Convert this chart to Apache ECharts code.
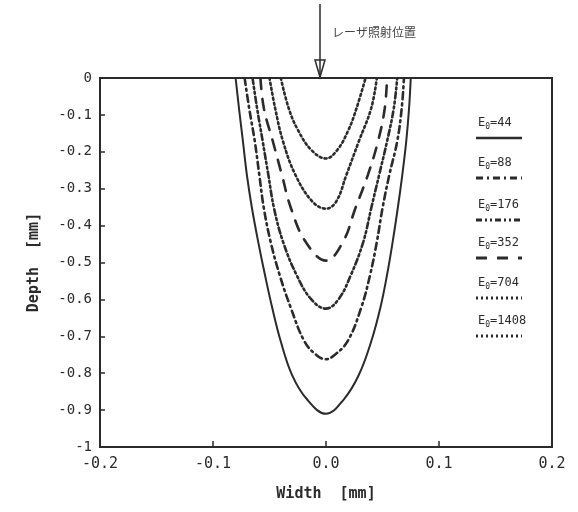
<!DOCTYPE html>
<html>
<head>
<meta charset="utf-8">
<script src="https://cdn.jsdelivr.net/npm/echarts@6/dist/echarts.min.js"></script>
<style>
  html, body { margin: 0; padding: 0; background: #fff; }
  #chart { width: 578px; height: 512px; }
</style>
</head>
<body>
<div id="chart"></div>
<script>
// x [mm], y [mm], left branch to right branch
const e44 = [[-0.080, 0], [-0.077, -0.082], [-0.0735, -0.172], [-0.070, -0.263], [-0.0655, -0.353], [-0.060, -0.444],
    [-0.054, -0.534], [-0.0475, -0.624], [-0.040, -0.714], [-0.030, -0.805], [-0.017, -0.87], [0, -0.91],
    [0.016, -0.87], [0.029, -0.805], [0.040, -0.714], [0.048, -0.624], [0.054, -0.534], [0.059, -0.444],
    [0.0635, -0.353], [0.0675, -0.263], [0.071, -0.172], [0.0735, -0.082], [0.075, 0]];
const e88 = [[-0.072, 0], [-0.068, -0.082], [-0.063, -0.172], [-0.059, -0.263], [-0.055, -0.353], [-0.049, -0.444],
    [-0.041, -0.534], [-0.031, -0.624], [-0.019, -0.714], [-0.008, -0.752], [0, -0.762], [0.007, -0.752],
    [0.019, -0.714], [0.031, -0.624], [0.039, -0.534], [0.045, -0.444], [0.050, -0.353], [0.056, -0.263],
    [0.063, -0.172], [0.067, -0.082], [0.069, 0]];
const e176 = [[-0.065, 0], [-0.061, -0.082], [-0.056, -0.172], [-0.051, -0.263], [-0.046, -0.353], [-0.038, -0.444],
    [-0.026, -0.534], [-0.013, -0.60], [0, -0.625], [0.011, -0.60], [0.022, -0.534], [0.033, -0.444],
    [0.040, -0.353], [0.047, -0.263], [0.054, -0.172], [0.060, -0.082], [0.063, 0]];
const e352 = [[-0.058, 0], [-0.055, -0.082], [-0.047, -0.172], [-0.039, -0.263], [-0.031, -0.353], [-0.018, -0.444],
    [0, -0.495], [0.015, -0.444], [0.026, -0.353], [0.037, -0.263], [0.046, -0.172], [0.052, -0.082], [0.054, 0]];
const e704 = [[-0.050, 0], [-0.045, -0.082], [-0.038, -0.172], [-0.027, -0.263], [-0.012, -0.335], [0, -0.354],
    [0.009, -0.335], [0.018, -0.263], [0.029, -0.172], [0.040, -0.082], [0.045, 0]];
const e1408 = [[-0.040, 0], [-0.033, -0.082], [-0.025, -0.14], [-0.013, -0.195], [0, -0.218], [0.010, -0.195],
    [0.020, -0.14], [0.027, -0.082], [0.035, 0]];

const legend_labels = ['44', '88', '176', '352', '704', '1408'];
const x_ticks = [-0.2, -0.1, 0.0, 0.1, 0.2];
const y_ticks = [0, -0.1, -0.2, -0.3, -0.4, -0.5, -0.6, -0.7, -0.8, -0.9, -1];

const ink = '#2b2b2b';
const mono = '"DejaVu Sans Mono", "Liberation Mono", monospace';
const dashes = ['solid', [7, 4, 2, 4], [6, 3, 2, 3, 2, 3], [11, 10], [2, 3], [2, 3]];
const curves = [e44, e88, e176, e352, e704, e1408];

let series = curves.map((c, i) => ({
    name: 'E0=' + legend_labels[i], type: 'line', data: c, smooth: 0.4, showSymbol: false,
    lineStyle: {color: ink, width: i === 0 ? 2 : 2.6, type: dashes[i], cap: 'round'}
}));

// hand drawn legend: label above a short line sample
let legend_y = [125, 165, 207, 245, 285, 323];
let graphics = [];
legend_labels.forEach((lab, i) => {
    graphics.push({
        type: 'text', left: 478, top: legend_y[i] - 8,
        style: {
            text: '{e|E}{s|0}{e|=' + lab + '}',
            rich: {
                e: {fontFamily: mono, fontSize: 12, fill: ink},
                s: {fontFamily: mono, fontSize: 8, fill: ink, padding: [8, 0, 0, 0]}
            }
        }
    });
    graphics.push({
        type: 'line', shape: {x1: 476, y1: legend_y[i] + 13, x2: 522, y2: legend_y[i] + 13},
        style: {stroke: ink, lineWidth: i === 0 ? 2.5 : 3, lineDash: dashes[i] === 'solid' ? null : dashes[i]}
    });
});
// laser position arrow
graphics.push({type: 'line', shape: {x1: 320, y1: 4, x2: 320, y2: 77}, style: {stroke: ink, lineWidth: 1.5}});
graphics.push({type: 'polygon', shape: {points: [[315, 60], [325, 60], [320, 77]]},
    style: {fill: 'none', stroke: ink, lineWidth: 1.5}});
graphics.push({type: 'text', left: 332, top: 26,
    style: {text: 'レーザ照射位置', font: '12px "Noto Sans CJK JP"', fill: '#444'}});

let option = {
    animation: false,
    backgroundColor: '#fff',
    grid: {left: 100, right: 26, top: 78, bottom: 65, show: true, borderColor: ink, borderWidth: 2},
    xAxis: {
        type: 'value', min: -0.2, max: 0.2, interval: 0.1,
        name: 'Width  [mm]', nameLocation: 'middle', nameGap: 40,
        nameTextStyle: {fontFamily: mono, fontSize: 15, color: ink, fontWeight: 'bold'},
        axisLine: {onZero: false, lineStyle: {color: ink, width: 2}},
        axisTick: {inside: true, length: 6, lineStyle: {color: ink, width: 1.5}},
        axisLabel: {fontFamily: mono, fontSize: 15, color: ink, margin: 10,
            formatter: v => x_ticks.includes(Math.round(v * 10) / 10) ? v.toFixed(1) : ''},
        splitLine: {show: false}
    },
    yAxis: {
        type: 'value', min: -1, max: 0, interval: 0.1,
        name: 'Depth  [mm]', nameLocation: 'middle', nameGap: 58, nameRotate: 90,
        nameTextStyle: {fontFamily: mono, fontSize: 15, color: ink, fontWeight: 'bold'},
        axisLine: {onZero: false, lineStyle: {color: ink, width: 2}},
        axisTick: {inside: true, length: 5, lineStyle: {color: ink, width: 1.5}},
        axisLabel: {fontFamily: mono, fontSize: 14, color: ink, margin: 8,
            formatter: v => {
                let r = Math.round(v * 10) / 10;
                if (!y_ticks.includes(r)) return '';
                return (r === 0 || r === -1) ? String(r) : r.toFixed(1);
            }},
        splitLine: {show: false}
    },
    series: series,
    graphic: graphics
};

let my_chart = echarts.init(document.getElementById('chart'));
my_chart.setOption(option);
</script>
</body>
</html>
